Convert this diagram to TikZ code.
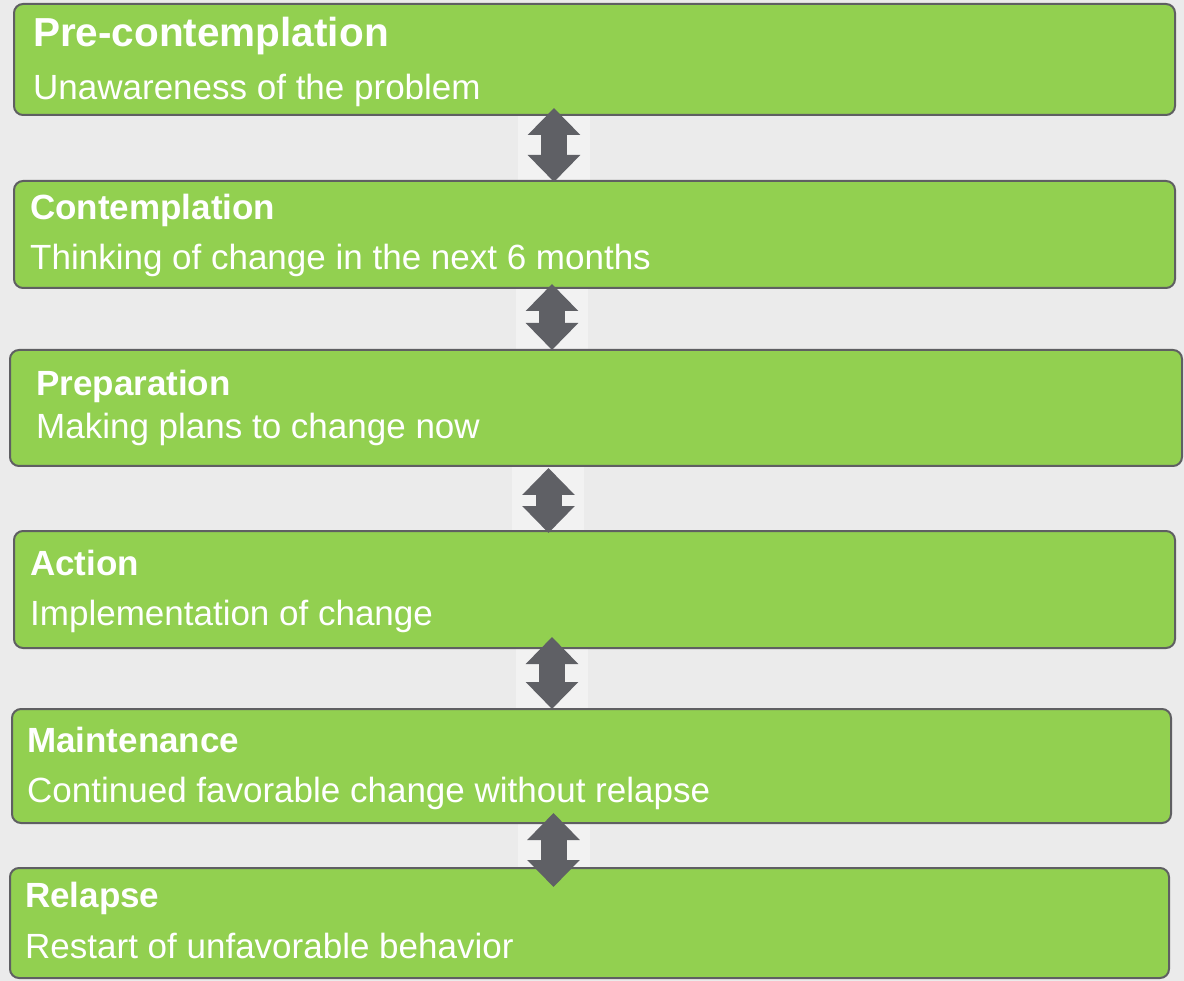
\documentclass[tikz,border=0pt]{standalone}
\usepackage{fontspec}
\setmainfont{Liberation Sans}
\usetikzlibrary{arrows.meta}
\definecolor{stage_green}{RGB}{146, 208, 80}
\definecolor{stage_edge}{RGB}{95, 95, 98}
\definecolor{arrow_gray}{RGB}{95, 96, 101}
\definecolor{back_gray}{RGB}{235, 235, 235}
\definecolor{strip_gray}{RGB}{242, 242, 242}
\tikzstyle{stage}=[rectangle,rounded corners=9pt,fill=stage_green,draw=stage_edge,
  line width=2pt,inner sep=0pt]
\tikzstyle{ttl}=[anchor=base west,inner sep=0pt,text=white,
  font=\fontsize{35}{42}\selectfont\bfseries]
\tikzstyle{sub}=[anchor=base west,inner sep=0pt,text=white,
  font=\fontsize{35}{42}\selectfont]
\tikzstyle{link}=[arrow_gray,line width=26pt,
  {Triangle[width=51pt,length=27pt]}-{Triangle[width=51pt,length=27pt]}]
\begin{document}
\begin{tikzpicture}[x=1pt,y=-1pt]
    \fill [back_gray] (0,0) rectangle (1184,981);
    \useasboundingbox (0,0) rectangle (1184,981);
    % light strips behind the arrows
    \fill [strip_gray] (518,115) rectangle (590,181);
    \fill [strip_gray] (516,288) rectangle (588,350);
    \fill [strip_gray] (512,466) rectangle (584,531);
    \fill [strip_gray] (516,648) rectangle (588,709);
    \fill [strip_gray] (518,823) rectangle (590,868);
    % stages
    \node [style=stage,minimum width=1161pt,minimum height=111pt] (pre) at (594.5,59.5) {};
    \node [style=stage,minimum width=1161pt,minimum height=107pt] (cont) at (594.5,234.5) {};
    \node [style=stage,minimum width=1172pt,minimum height=116pt] (prep) at (596,408) {};
    \node [style=stage,minimum width=1161pt,minimum height=117pt] (act) at (594.5,589.5) {};
    \node [style=stage,minimum width=1159pt,minimum height=114pt] (maint) at (591.5,766) {};
    \node [style=stage,minimum width=1159pt,minimum height=110pt] (rel) at (589.5,923) {};
    % texts
    \node [style=ttl,font=\fontsize{40.5}{48}\selectfont\bfseries] (preT) at (33,47) {Pre-contemplation};
    \node [style=sub] (preS) at (33,100) {Unawareness of the problem};
    \node [style=ttl] (contT) at (30,220) {Contemplation};
    \node [style=sub] (contS) at (30,270) {Thinking of change in the next 6 months};
    \node [style=ttl] (prepT) at (36,396) {Preparation};
    \node [style=sub] (prepS) at (36,439) {Making plans to change now};
    \node [style=ttl] (actT) at (30,575) {Action};
    \node [style=sub] (actS) at (30,625) {Implementation of change};
    \node [style=ttl] (maintT) at (27,752) {Maintenance};
    \node [style=sub] (maintS) at (27,802) {Continued favorable change without relapse};
    \node [style=ttl] (relT) at (25,907) {Relapse};
    \node [style=sub] (relS) at (25,958) {Restart of unfavorable behavior};
    % arrow ends
    \coordinate (a1) at (554,108);
    \coordinate (b1) at (554,182);
    \coordinate (a2) at (552,284);
    \coordinate (b2) at (552,350);
    \coordinate (a3) at (548.5,468);
    \coordinate (b3) at (548.5,533);
    \coordinate (a4) at (552,637);
    \coordinate (b4) at (552,709);
    \coordinate (a5) at (553.5,813);
    \coordinate (b5) at (553.5,887);
    \draw [style=link] (a1) to (b1);
    \draw [style=link] (a2) to (b2);
    \draw [style=link] (a3) to (b3);
    \draw [style=link] (a4) to (b4);
    \draw [style=link] (a5) to (b5);
  \end{tikzpicture}
\end{document}
